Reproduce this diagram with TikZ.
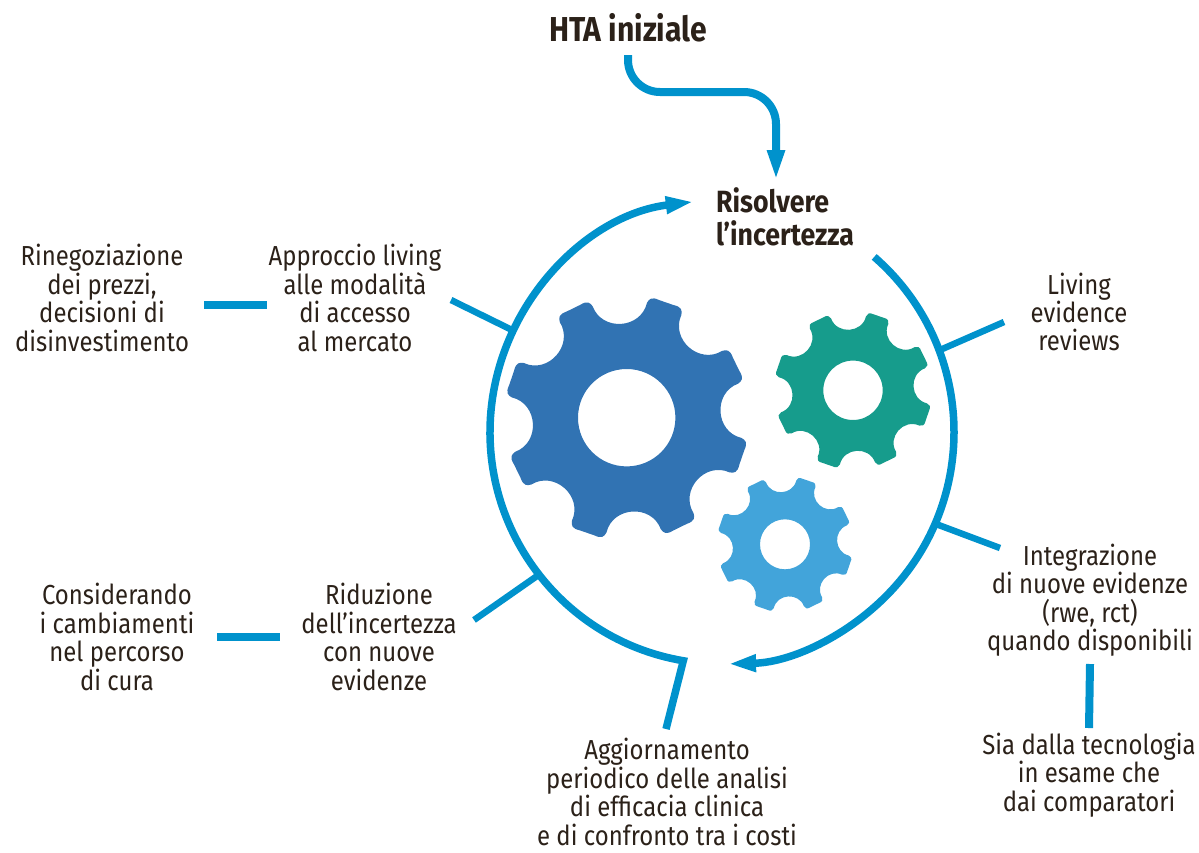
\documentclass[tikz,border=0pt]{standalone}
\usepackage{fontspec}
\setmainfont[FakeStretch=0.87]{Fira Sans}
\usetikzlibrary{arrows.meta}
\definecolor{linecyan}{HTML}{0092CC}
\definecolor{gearblue}{HTML}{3173B3}
\definecolor{gearteal}{HTML}{169C8C}
\definecolor{gearsky}{HTML}{42A4DA}
\definecolor{inkbrown}{HTML}{2B2119}
\tikzset{
  conn/.style={draw=linecyan,line width=6.5pt},
  dashbar/.style={draw=linecyan,line width=8pt},
  ring/.style={draw=linecyan,line width=7.5pt,miter limit=10},
  flow/.style={draw=linecyan,line width=8pt},
  lbl/.style={text=inkbrown,align=center,font=\fontsize{27.5}{28.4}\selectfont,inner sep=0pt},
  lblbold/.style={text=inkbrown,align=center,font=\fontsize{30.7}{33}\selectfont\bfseries,inner sep=0pt},
}
\newcommand{\gearshape}[5]{%
  \begin{scope}[shift={(#1,#2)}]
  \pgfmathsetmacro{\rr}{#3}
  \fill[#5,even odd rule]
    ({-3.5-13.5}:{0.955*\rr})
    \foreach \k [evaluate=\k as \a using {-3.5+45*\k}] in {0,...,7} {
      .. controls ({\a-12.5}:{0.735*\rr}) and ({\a+12.5}:{0.735*\rr}) .. ({\a+13.5}:{0.955*\rr})
      .. controls ({\a+14.2}:{0.99*\rr}) and ({\a+15}:{1.015*\rr}) .. ({\a+19}:{1.0*\rr})
      -- ({\a+26}:{1.0*\rr})
      .. controls ({\a+30}:{1.015*\rr}) and ({\a+30.8}:{0.99*\rr}) .. ({\a+31.5}:{0.955*\rr})
    } -- cycle
    (0,0) circle[radius=#4];
  \end{scope}}
\begin{document}
\begin{tikzpicture}[x=1pt,y=-1pt]
\useasboundingbox (0,0) rectangle (1199,852);
% gears
\gearshape{626.7}{417.7}{122}{48.7}{gearblue}
\gearshape{853}{390.3}{78.7}{29.7}{gearteal}
\gearshape{785}{544.3}{67.8}{25}{gearsky}
% labels
\node[lblbold,font=\fontsize{34.6}{36}\selectfont\bfseries] (hta) at (628,28) {HTA iniziale};
\node[lblbold,align=left] (ris) at (785,216.5) {Risolvere\\l’incertezza};
\node[lbl] (rineg) at (102,298) {Rinegoziazione\\dei prezzi,\\decisioni di\\disinvestimento};
\node[lbl] (appr) at (355,298) {Approccio living\\alle modalità\\di accesso\\al mercato};
\node[lbl] (liv) at (1079,312) {Living\\evidence\\reviews};
\node[lbl] (integ) at (1090,600) {Integrazione\\di nuove evidenze\\(rwe, rct)\\quando disponibili};
\node[lbl] (sia) at (1089,775) {Sia dalla tecnologia\\in esame che\\dai comparatori};
\node[lbl] (agg) at (667,792) {Aggiornamento\\periodico delle analisi\\di efficacia clinica\\e di confronto tra i costi};
\node[lbl] (rid) at (379,637) {Riduzione\\dell’incertezza\\con nuove\\evidenze};
\node[lbl] (cons) at (117,637) {Considerando\\i cambiamenti\\nel percorso\\di cura};
% ring
\coordinate (cc) at (722,432);
\coordinate (ringLstart) at ([shift={(99.6:232)}]cc);
\coordinate (ringRstart) at ([shift={(-49:232)}]cc);
\coordinate (e1) at (666,729);
\draw[ring,-{Triangle[length=28pt,width=16pt]}] (e1) -- (ringLstart) arc[start angle=99.6,end angle=263,radius=232];
\draw[ring,-{Triangle[length=28pt,width=16pt]}] (ringRstart) arc[start angle=-49,end angle=88.5,radius=232];
% free ends
\coordinate (a1) at (451,300); \coordinate (a2) at (512,330);
\coordinate (b1) at (1004,322); \coordinate (b2) at (940,350);
\coordinate (c1) at (1000,548); \coordinate (c2) at (936,524);
\coordinate (d1) at (474,620); \coordinate (d2) at (537,576);
\coordinate (d3) at (204,305); \coordinate (d4) at (267,305);
\coordinate (d5) at (217,637); \coordinate (d6) at (280,637);
\coordinate (d7) at (1090,664); \coordinate (d8) at (1089,728);
\coordinate (f1) at (628,55); \coordinate (f2) at (776,181);
\draw[conn] (a1) -- (a2);
\draw[conn] (b1) -- (b2);
\draw[conn] (c1) -- (c2);
\draw[conn] (d1) -- (d2);
\draw[dashbar] (d3) -- (d4);
\draw[dashbar] (d5) -- (d6);
\draw[dashbar] (d7) -- (d8);
\draw[flow,-{Triangle[length=31pt,width=16pt]}] (f1) -- (628,60) arc[start angle=180,end angle=90,radius=32] -- (744,92) arc[start angle=-90,end angle=0,radius=32] -- (f2);
\end{tikzpicture}
\end{document}
